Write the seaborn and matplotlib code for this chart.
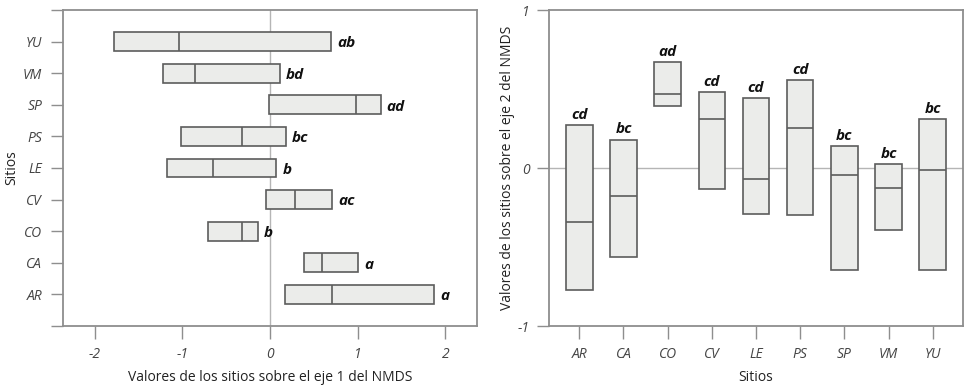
import numpy as np
import pandas as pd
import matplotlib
matplotlib.use("Agg")
import matplotlib.pyplot as plt
import seaborn as sns

# ---- data ----
sites = ["AR", "CA", "CO", "CV", "LE", "PS", "SP", "VM", "YU"]

# NMDS axis 1 (left panel): lower quartile, median, upper quartile
ax1_q1 = [0.17, 0.39, -0.71, -0.04, -1.18, -1.01, -0.01, -1.22, -1.78]
ax1_med = [0.71, 0.59, -0.32, 0.29, -0.65, -0.32, 0.98, -0.86, -1.04]
ax1_q3 = [1.87, 1.00, -0.14, 0.71, 0.07, 0.18, 1.26, 0.11, 0.70]
ax1_letters = ["a", "a", "b", "ac", "b", "bc", "ad", "bd", "ab"]

# NMDS axis 2 (right panel)
ax2_q1 = [-0.77, -0.565, 0.39, -0.13, -0.29, -0.295, -0.645, -0.39, -0.645]
ax2_med = [-0.34, -0.175, 0.47, 0.31, -0.07, 0.255, -0.044, -0.125, -0.01]
ax2_q3 = [0.27, 0.18, 0.67, 0.48, 0.44, 0.555, 0.14, 0.025, 0.31]
ax2_letters = ["cd", "bc", "ad", "cd", "cd", "cd", "bc", "bc", "bc"]

xticks1 = [-2, -1, 0, 1, 2]
yticks2 = [-1, 0, 1]


def long_form(q1, med, q3):
    rows = []
    for s, a, m, b in zip(sites, q1, med, q3):
        for v in (a, a, m, b, b):
            rows.append({"site": s, "val": v})
    return pd.DataFrame(rows)


sns.set_theme(style="white")
plt.rcParams["font.family"] = ["Open Sans", "DejaVu Sans"]

FACE = "#ebecea"
EDGE = "#5c5c5c"
SPINE = "#8e8e8e"
TXT = "#444444"

fig = plt.figure(figsize=(9.66, 3.9), dpi=100)
axL = fig.add_axes([63 / 966, 64 / 390, 414 / 966, 316 / 390])
axR = fig.add_axes([549.3 / 966, 64 / 390, 413.4 / 966, 316 / 390])

box_kw = dict(width=0.6, whis=0, showcaps=False, showfliers=False,
              color=FACE, linecolor=EDGE, linewidth=1.2, saturation=1,
              whiskerprops=dict(linewidth=0))

# ---- left panel ----
order_left = sites[::-1]
dfL = long_form(ax1_q1, ax1_med, ax1_q3)
axL.axvline(0, color="#b5b5b5", lw=1.0, zorder=0)
sns.boxplot(data=dfL, x="val", y="site", order=order_left, orient="h", ax=axL, **box_kw)
axL.set_xlim(-2.36, 2.36)
axL.set_ylim(9, -1)
axL.set_yticks(range(-1, 10))
axL.set_yticklabels([""] + order_left + [""])
axL.set_xticks(xticks1)
axL.set_xticklabels([str(t) for t in xticks1])
for s, q3, lab in zip(sites, ax1_q3, ax1_letters):
    pos = order_left.index(s)
    axL.text(q3 + 0.07, pos + 0.06, lab, ha="left", va="center",
             fontsize=11, fontweight="bold", fontstyle="italic", color="#111111")
axL.set_xlabel("Valores de los sitios sobre el eje 1 del NMDS", fontsize=10, color="#222222")
axL.set_ylabel("Sitios", fontsize=10, color="#222222")
axL.xaxis.set_label_coords(0.5, -0.14)
axL.yaxis.set_label_coords(-0.106, 0.5)

# ---- right panel ----
dfR = long_form(ax2_q1, ax2_med, ax2_q3)
axR.axhline(0, color="#b5b5b5", lw=1.0, zorder=0)
sns.boxplot(data=dfR, x="site", y="val", order=sites, orient="v", ax=axR, **box_kw)
axR.set_xlim(-0.68, 8.68)
axR.set_ylim(-1, 1)
axR.set_yticks(yticks2)
axR.set_yticklabels([str(t) for t in yticks2])
for i, (q3, lab) in enumerate(zip(ax2_q3, ax2_letters)):
    axR.text(i, q3 + 0.02, lab, ha="center", va="bottom",
             fontsize=11, fontweight="bold", fontstyle="italic", color="#111111")
axR.set_xlabel("Sitios", fontsize=10, color="#222222")
axR.set_ylabel("Valores de los sitios sobre el eje 2 del NMDS", fontsize=10, color="#222222")
axR.xaxis.set_label_coords(0.5, -0.14)
axR.yaxis.set_label_coords(-0.083, 0.5)

for ax in (axL, axR):
    for sp in ax.spines.values():
        sp.set_visible(True)
        sp.set_color(SPINE)
        sp.set_linewidth(1.3)
    ax.tick_params(axis="both", direction="out", length=9, width=1.0, color=SPINE,
                   labelsize=10, labelcolor=TXT, left=True, bottom=True)
    for t in ax.get_xticklabels() + ax.get_yticklabels():
        t.set_fontstyle("italic")
axL.tick_params(axis="x", pad=6)
axL.tick_params(axis="y", pad=6)
axR.tick_params(axis="x", pad=6)
axR.tick_params(axis="y", pad=5)

fig.savefig("out.png", dpi=100)
